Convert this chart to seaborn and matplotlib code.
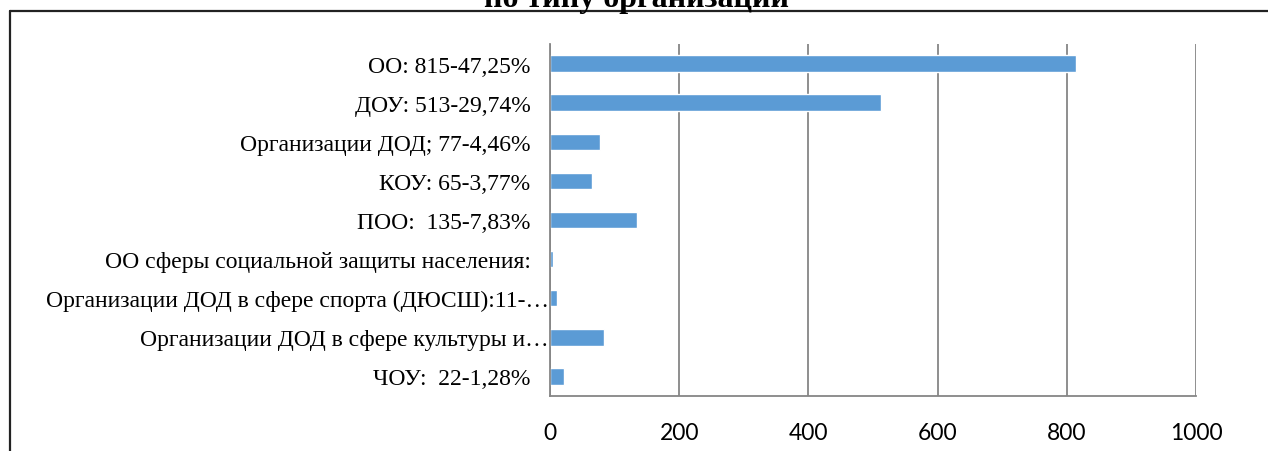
import matplotlib
matplotlib.use('Agg')
import matplotlib.pyplot as plt
import matplotlib.transforms as mtransforms
import seaborn as sns
import pandas as pd
import numpy as np
from matplotlib.lines import Line2D

# Data
labels = [
    'ОО: 815-47,25%',
    'ДОУ: 513-29,74%',
    'Организации ДОД; 77-4,46%',
    'КОУ: 65-3,77%',
    'ПОО:  135-7,83%',
    'ОО сферы социальной защиты населения:',
    'Организации ДОД в сфере спорта (ДЮСШ):11-…',
    'Организации ДОД в сфере культуры и…',
    'ЧОУ:  22-1,28%',
]
values = [815, 513, 77, 65, 135, 4, 11, 83, 22]
x_ticks = [0, 200, 400, 600, 800, 1000]

df = pd.DataFrame({'label': labels, 'value': values})

sns.set_style('white')
plt.rcParams['font.family'] = ['Liberation Serif', 'DejaVu Sans']
plt.rcParams['text.color'] = 'black'

W, H = 1268, 452
fig = plt.figure(figsize=(W / 100, H / 100), dpi=100)
ax = fig.add_axes([550 / W, 1 - 397 / H, (1196 - 550) / W, (397 - 45) / H])

sns.barplot(data=df, x='value', y='label', orient='h', color='#5B9BD5',
            saturation=1, width=0.42, ax=ax)

grid_col = '#868686'
ax.set_xlim(0, 1000)
ax.set_ylim(8.5, -0.5)
ax.set_xticks(x_ticks)
ax.set_xticklabels([str(t) for t in x_ticks], family='Lato', fontsize=16.5)
ax.xaxis.grid(True, color=grid_col, linewidth=1.3)
ax.set_axisbelow(True)
ax.tick_params(axis='x', length=4.5, width=1.3, color=grid_col, pad=14,
               labelcolor='black')
ax.tick_params(axis='y', length=0, pad=14, labelsize=17, labelcolor='black')
ax.set_yticks(np.arange(-0.5, 9, 1), minor=True)
ax.tick_params(axis='y', which='minor', length=4.5, width=1.3, color=grid_col)
ax.set_xlabel('')
ax.set_ylabel('')
for s in ['top', 'right']:
    ax.spines[s].set_visible(False)
for s in ['left', 'bottom']:
    ax.spines[s].set_color(grid_col)
    ax.spines[s].set_linewidth(1.3)

# truncated labels run right up to the axis
shift = mtransforms.ScaledTranslation(18 / 100, 0, fig.dpi_scale_trans)
for t in ax.get_yticklabels():
    if t.get_text().endswith('…'):
        t.set_transform(t.get_transform() + shift)

# chart frame (only the top and left edges are inside the picture)
fig.add_artist(Line2D([9.5 / W, 1], [1 - 12 / H, 1 - 12 / H], color='#222222',
                      linewidth=1.6, transform=fig.transFigure))
fig.add_artist(Line2D([9.5 / W, 9.5 / W], [0, 1 - 12 / H], color='#222222',
                      linewidth=1.6, transform=fig.transFigure))

# title, cut off at the top edge as in the source
fig.text(636 / W, 1 - 7.5 / H, 'по типу организации', ha='center', va='baseline',
         fontsize=23, fontweight='bold')

fig.savefig('out.png', dpi=100)
